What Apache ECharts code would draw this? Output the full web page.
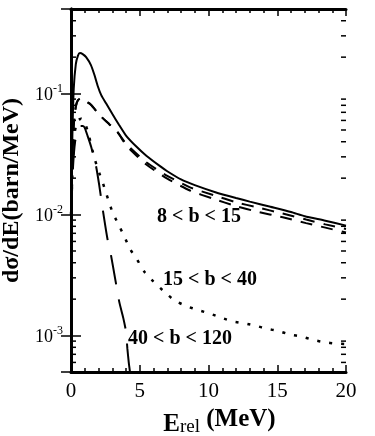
<!DOCTYPE html>
<html>
<head>
<meta charset="utf-8">
<title>dσ/dE vs Erel</title>
<script src="https://cdn.jsdelivr.net/npm/echarts@6/dist/echarts.min.js"></script>
<style>
    html, body { margin: 0; padding: 0; background: #fff; }
    #chart { width: 375px; height: 436px; }
</style>
</head>
<body>
<div id="chart"></div>
<script>
    // 8 < b < 15, solid
    var eSolid = [0, 0.1, 0.2, 0.35, 0.5, 0.65, 0.85, 1.1, 1.45, 1.7, 1.95, 2.2, 2.55, 3.0, 3.5, 4.0, 4.75, 5.5, 6.5, 7.0, 8.0, 9.0, 10.5, 12, 13, 14.5, 16, 17, 18.5, 20];
    var vSolid = [0.01, 0.045, 0.11, 0.175, 0.205, 0.216, 0.212, 0.2, 0.172, 0.143, 0.115, 0.097, 0.083, 0.068, 0.055, 0.045, 0.0365, 0.0305, 0.025, 0.0228, 0.0195, 0.0175, 0.0153, 0.0137, 0.0128, 0.0116, 0.0105, 0.0097, 0.0089, 0.0081];
    // 8 < b < 15, two dashed curves
    var eDashed = [0, 0.1, 0.2, 0.35, 0.5, 0.7, 0.85, 1.45, 2.05, 2.8, 3.4, 3.9, 4.3, 5.5, 7.0, 8.65, 10.35, 12.05, 13.5, 15.4, 17.1, 18.5, 20];
    var vDashedA = [0.01, 0.03, 0.055, 0.078, 0.088, 0.091, 0.089, 0.081, 0.067, 0.0556, 0.0477, 0.040, 0.0357, 0.0269, 0.0209, 0.0168, 0.0145, 0.0126, 0.0115, 0.0102, 0.0091, 0.0083, 0.0076];
    var vDashedB = [0.01, 0.03, 0.055, 0.078, 0.088, 0.091, 0.089, 0.081, 0.067, 0.0556, 0.0477, 0.039, 0.0345, 0.0258, 0.0198, 0.0158, 0.0135, 0.0117, 0.0106, 0.0095, 0.0085, 0.0078, 0.0071];
    // 15 < b < 40, dotted
    var eDotted = [0, 0.15, 0.3, 0.5, 0.75, 1.0, 1.3, 1.69, 2.06, 2.3, 2.52, 2.79, 3.03, 3.4, 3.88, 4.29, 4.78, 5.31, 5.99, 6.79, 7.56, 8.41, 9.26, 10.11, 10.96, 11.76, 12.65, 13.5, 14.23, 15.08, 15.93, 16.78, 17.62, 18.47, 19.2, 20];
    var vDotted = [0.01, 0.03, 0.05, 0.06, 0.062, 0.058, 0.045, 0.0296, 0.022, 0.0185, 0.0155, 0.0124, 0.0104, 0.0085, 0.0066, 0.0052, 0.0043, 0.0034, 0.0028, 0.0023, 0.00194, 0.00175, 0.00162, 0.00152, 0.0014, 0.00131, 0.00126, 0.0012, 0.00114, 0.00109, 0.00102, 0.00098, 0.00092, 0.00088, 0.00086, 0.00085];
    // 40 < b < 120, long dashes
    var eLong = [0, 0.15, 0.3, 0.5, 0.7, 0.87, 1.0, 1.21, 1.45, 1.82, 2.06, 2.3, 2.64, 2.91, 3.2, 3.51, 3.8, 4.0, 4.1, 4.2, 4.3, 4.45];
    var vLong = [0.01, 0.025, 0.04, 0.05, 0.054, 0.054, 0.052, 0.0445, 0.0368, 0.0252, 0.0173, 0.0112, 0.0064, 0.0046, 0.003, 0.0019, 0.0014, 0.00108, 0.00078, 0.0006, 0.00049, 0.00036];

    var yMinorTicks = [0.0006, 0.0007, 0.0008, 0.0009,
        0.002, 0.003, 0.004, 0.005, 0.006, 0.007, 0.008, 0.009,
        0.02, 0.03, 0.04, 0.05, 0.06, 0.07, 0.08, 0.09,
        0.2, 0.3, 0.4];

    var bandLabels = ['8 < b < 15', '15 < b < 40', '40 < b < 120'];

    function pairs(xs, ys) {
        var out = [];
        for (var i = 0; i < xs.length; i++) out.push([xs[i], ys[i]]);
        return out;
    }

    var serif = '"Liberation Serif", "Times New Roman", serif';

    function logLabel(v) {
        var p = Math.log10(v);
        var e = Math.round(p);
        if (Math.abs(p - e) > 1e-6) return '';
        return '{b|10}{s|' + e + '}';
    }

    var xBase = {
        type: 'value', min: 0, max: 20, interval: 5,
        axisLine: { lineStyle: { color: '#000', width: 3 } },
        axisTick: { inside: true, length: 7, lineStyle: { color: '#000', width: 1.5 } },
        minorTick: { show: true, splitNumber: 5, length: 4, lineStyle: { color: '#000', width: 1.5 } },
        splitLine: { show: false }
    };
    var yBase = {
        type: 'log', logBase: 10, min: 0.0005, max: 0.5,
        axisLine: { lineStyle: { color: '#000', width: 3 } },
        axisTick: { inside: true, length: 10, lineStyle: { color: '#000', width: 1.5 } },
        splitLine: { show: false }
    };

    var chart = echarts.init(document.getElementById('chart'));
    chart.setOption({
        animation: false,
        backgroundColor: '#fff',
        grid: { left: 71, right: 29, top: 9, bottom: 64, outerBoundsMode: 'none' },
        xAxis: [
            echarts.util.merge({
                position: 'bottom',
                axisLabel: { color: '#000', fontFamily: serif, fontSize: 21, margin: 9 },
                name: '{E|E}{r|rel}{m| (MeV)}',
                nameLocation: 'middle',
                nameGap: 31,
                nameTextStyle: {
                    padding: [0, 0, 0, 22],
                    rich: {
                        E: { fontFamily: serif, fontWeight: 'bold', fontSize: 25, color: '#000', verticalAlign: 'bottom', lineHeight: 30 },
                        r: { fontFamily: serif, fontSize: 19, color: '#000', verticalAlign: 'bottom', lineHeight: 26 },
                        m: { fontFamily: serif, fontWeight: 'bold', fontSize: 25, color: '#000', verticalAlign: 'top', lineHeight: 26 }
                    }
                }
            }, xBase, true),
            echarts.util.merge({ position: 'top', axisLabel: { show: false } }, xBase, true)
        ],
        yAxis: [
            echarts.util.merge({
                position: 'left',
                axisLabel: {
                    margin: 8,
                    formatter: logLabel,
                    rich: {
                        b: { fontFamily: serif, fontSize: 18, color: '#000', verticalAlign: 'bottom', lineHeight: 22 },
                        s: { fontFamily: serif, fontSize: 12, color: '#000', verticalAlign: 'top', lineHeight: 14 }
                    }
                },
                name: 'dσ/dE(barn/MeV)',
                nameLocation: 'middle',
                nameRotate: 90,
                nameGap: 43,
                nameTextStyle: { fontFamily: serif, fontWeight: 'bold', fontSize: 24, color: '#000' }
            }, yBase, true),
            echarts.util.merge({ position: 'right', axisLabel: { show: false } }, yBase, true)
        ],
        graphic: [
            { type: 'text', x: 157, y: 217, style: { text: bandLabels[0], font: 'bold 20px ' + serif, fill: '#000', verticalAlign: 'middle' } },
            { type: 'text', x: 163, y: 280, style: { text: bandLabels[1], font: 'bold 20px ' + serif, fill: '#000', verticalAlign: 'middle' } },
            { type: 'text', x: 128, y: 339, style: { text: bandLabels[2], font: 'bold 20px ' + serif, fill: '#000', verticalAlign: 'middle' } }
        ],
        series: [
            {
                type: 'line', data: pairs(eSolid, vSolid), showSymbol: false, smooth: 0.2,
                lineStyle: { color: '#000', width: 2 }
            },
            {
                type: 'line', data: pairs(eDashed, vDashedA), showSymbol: false, smooth: 0.2,
                lineStyle: { color: '#000', width: 2, type: [12, 9] }
            },
            {
                type: 'line', data: pairs(eDashed, vDashedB), showSymbol: false, smooth: 0.2,
                lineStyle: { color: '#000', width: 2, type: [12, 9] }
            },
            {
                type: 'line', data: pairs(eDotted, vDotted), showSymbol: false, smooth: 0.2,
                lineStyle: { color: '#000', width: 2.5, type: [3, 9] }
            },
            {
                type: 'line', data: pairs(eLong, vLong), showSymbol: false, smooth: 0.2,
                lineStyle: { color: '#000', width: 2, type: [30, 15] }
            },
            {
                // log-axis minor ticks (2..9 per decade) on both sides
                type: 'custom', silent: true, clip: false,
                data: yMinorTicks.map(function (v) { return [0, v]; }),
                renderItem: function (params, api) {
                    var v = api.value(1);
                    var l = api.coord([0, v]);
                    var r = api.coord([20, v]);
                    return {
                        type: 'group',
                        children: [
                            { type: 'line', shape: { x1: l[0], y1: l[1], x2: l[0] + 5, y2: l[1] }, style: { stroke: '#000', lineWidth: 1.5 } },
                            { type: 'line', shape: { x1: r[0], y1: r[1], x2: r[0] - 5, y2: r[1] }, style: { stroke: '#000', lineWidth: 1.5 } }
                        ]
                    };
                }
            }
        ]
    });
</script>
</body>
</html>
